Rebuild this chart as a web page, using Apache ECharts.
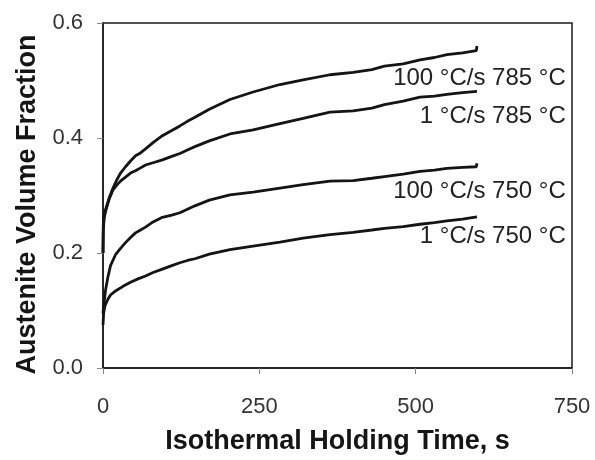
<!DOCTYPE html>
<html>
<head>
<meta charset="utf-8">
<script src="https://cdn.jsdelivr.net/npm/echarts@6/dist/echarts.min.js"></script>
<style>
  html, body { margin: 0; padding: 0; background: #fff; }
  #chart { width: 595px; height: 460px; }
</style>
</head>
<body>
<div id="chart"></div>
<script>
// Isothermal austenite formation curves: time (s) vs. volume fraction
const seriesNames = ['100 °C/s 785 °C', '1 °C/s 785 °C', '100 °C/s 750 °C', '1 °C/s 750 °C'];

const timeA = [0, 0.5, 2, 5, 10, 16, 22, 28, 36, 44, 52, 60, 68, 80, 95, 110, 123, 135, 147, 170, 203, 240, 283, 320, 363, 400, 430, 450, 480, 507, 530, 550, 575, 597, 598];
const fracA = [0.200, 0.250, 0.268, 0.279, 0.296, 0.313, 0.327, 0.339, 0.350, 0.360, 0.369, 0.374, 0.381, 0.392, 0.404, 0.413, 0.421, 0.429, 0.436, 0.450, 0.467, 0.480, 0.493, 0.501, 0.510, 0.514, 0.519, 0.525, 0.529, 0.536, 0.540, 0.545, 0.548, 0.552, 0.560];

const timeB = [0, 0.5, 2, 5, 10, 16, 22, 28, 36, 44, 52, 60, 68, 80, 95, 110, 123, 135, 147, 170, 203, 240, 283, 320, 363, 400, 430, 450, 480, 507, 530, 550, 575, 598];
const fracB = [0.200, 0.240, 0.262, 0.276, 0.294, 0.310, 0.318, 0.325, 0.332, 0.339, 0.343, 0.348, 0.353, 0.357, 0.362, 0.368, 0.373, 0.379, 0.385, 0.395, 0.407, 0.414, 0.425, 0.434, 0.445, 0.447, 0.452, 0.458, 0.464, 0.471, 0.473, 0.476, 0.479, 0.481];

const timeC = [0, 1, 4, 8, 12, 20, 28, 36, 44, 52, 60, 68, 80, 95, 110, 123, 135, 147, 170, 203, 240, 283, 320, 363, 400, 430, 450, 480, 507, 530, 550, 575, 597, 598];
const fracC = [0.095, 0.107, 0.135, 0.159, 0.178, 0.197, 0.208, 0.218, 0.227, 0.235, 0.240, 0.245, 0.254, 0.262, 0.266, 0.270, 0.276, 0.282, 0.292, 0.301, 0.306, 0.313, 0.319, 0.325, 0.326, 0.330, 0.333, 0.337, 0.342, 0.344, 0.347, 0.349, 0.350, 0.356];

const timeD = [0, 1, 3, 8, 12, 20, 32, 44, 56, 68, 80, 95, 110, 123, 135, 147, 170, 203, 240, 283, 320, 363, 400, 430, 450, 480, 507, 530, 550, 575, 598];
const fracD = [0.075, 0.095, 0.108, 0.120, 0.127, 0.134, 0.142, 0.149, 0.155, 0.160, 0.166, 0.172, 0.178, 0.183, 0.187, 0.190, 0.198, 0.206, 0.212, 0.219, 0.226, 0.232, 0.236, 0.240, 0.243, 0.246, 0.250, 0.253, 0.256, 0.259, 0.263];

const xTicks = [0, 250, 500, 750];
const yTicks = [0.0, 0.2, 0.4, 0.6];

const FONT = '"Liberation Sans", Arial, sans-serif';

function pairs(t, v) { return t.map((x, i) => [x, v[i]]); }

// where each curve's caption sits (right-aligned anchor in data units)
const captionAnchors = [[740, 0.503], [740, 0.437], [740, 0.308], [740, 0.229]];

const curves = [pairs(timeA, fracA), pairs(timeB, fracB), pairs(timeC, fracC), pairs(timeD, fracD)];

const chart = echarts.init(document.getElementById('chart'), null, { renderer: 'canvas' });

chart.setOption({
  animation: false,
  backgroundColor: '#fff',
  grid: {
    left: 103, right: 23, top: 23, bottom: 87,
    show: true, borderColor: '#1a1a1a', borderWidth: 1.5, backgroundColor: 'transparent'
  },
  xAxis: {
    type: 'value', min: xTicks[0], max: xTicks[xTicks.length - 1], interval: 250,
    name: 'Isothermal Holding Time, s', nameLocation: 'middle', nameGap: 60,
    nameTextStyle: { fontFamily: FONT, fontSize: 27, fontWeight: 'bold', color: '#151515' },
    axisLine: { lineStyle: { color: '#1a1a1a', width: 1.5 } },
    axisTick: { inside: false, length: 6, lineStyle: { color: '#888', width: 1 } },
    axisLabel: { fontFamily: FONT, fontSize: 22, color: '#333', margin: 28 },
    splitLine: { show: false }
  },
  yAxis: {
    type: 'value', min: yTicks[0], max: yTicks[yTicks.length - 1], interval: 0.2,
    name: 'Austenite Volume Fraction', nameLocation: 'middle', nameGap: 61,
    nameTextStyle: { fontFamily: FONT, fontSize: 27, fontWeight: 'bold', color: '#151515', padding: [0, 18, 0, 0] },
    axisLine: { lineStyle: { color: '#1a1a1a', width: 1.5 } },
    axisTick: { inside: false, length: 6, lineStyle: { color: '#888', width: 1 } },
    axisLabel: { fontFamily: FONT, fontSize: 22, color: '#333', margin: 20, formatter: v => v.toFixed(1) },
    splitLine: { show: false }
  },
  series: curves.map((data, i) => ({
    type: 'line',
    name: seriesNames[i],
    data: data,
    showSymbol: false,
    smooth: false,
    lineStyle: { color: '#141414', width: 2.8 },
    z: 3,
    markPoint: {
      symbol: 'circle', symbolSize: 0, silent: true,
      data: [{
        coord: captionAnchors[i],
        label: {
          show: true, position: 'left', distance: 0,
          formatter: seriesNames[i],
          fontFamily: FONT, fontSize: 24, color: '#222'
        }
      }]
    }
  }))
});
</script>
</body>
</html>
